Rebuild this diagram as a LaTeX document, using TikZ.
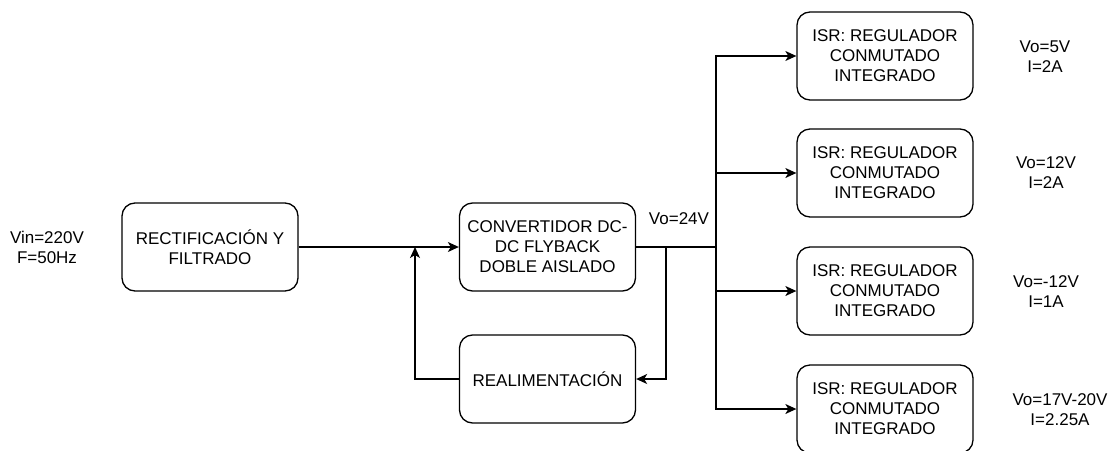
\documentclass[tikz,border=0pt]{standalone}
\usepackage{fontspec}
\setmainfont{Liberation Sans}
\usetikzlibrary{arrows.meta}
\begin{document}
\begin{tikzpicture}[x=1pt,y=-1pt,
  blk/.style={draw=black,line width=1.3pt,rounded corners=13pt,minimum width=176pt,minimum height=88pt,align=center,inner sep=2pt,font=\fontsize{17}{20}\selectfont},
  lbl/.style={align=center,inner sep=0pt,font=\fontsize{17}{20}\selectfont},
  wire/.style={line width=1.3pt},
  arr/.style={line width=1.3pt,-{Stealth[length=11pt,width=10pt,inset=3pt]}}]
\useasboundingbox (0,0) rectangle (1118,450);
\node[blk] (rect) at (210,247) {RECTIFICACIÓN Y\\FILTRADO};
\node[blk] (conv) at (547.5,247) {CONVERTIDOR DC-\\DC FLYBACK\\DOBLE AISLADO};
\node[blk] (real) at (547.5,379) {REALIMENTACIÓN};
\node[blk] (isr1) at (885,56) {ISR: REGULADOR\\CONMUTADO\\INTEGRADO};
\node[blk] (isr2) at (885,173) {ISR: REGULADOR\\CONMUTADO\\INTEGRADO};
\node[blk] (isr3) at (885,291) {ISR: REGULADOR\\CONMUTADO\\INTEGRADO};
\node[blk] (isr4) at (885,409) {ISR: REGULADOR\\CONMUTADO\\INTEGRADO};
\node[lbl] (vin) at (47,247) {Vin=220V\\F=50Hz};
\node[lbl] (vo24) at (679,219) {Vo=24V};
\node[lbl] (o1) at (1045,57) {Vo=5V\\I=2A};
\node[lbl] (o2) at (1046,173) {Vo=12V\\I=2A};
\node[lbl] (o3) at (1046,292) {Vo=-12V\\I=1A};
\node[lbl] (o4) at (1060,410) {Vo=17V-20V\\I=2.25A};
\coordinate (j) at (415,247);
\coordinate (br) at (666,247);
\coordinate (bus) at (716,247);
\draw[arr] (rect.east) -- (conv.west);
\draw[arr] (real.west) -| (j);
\draw[wire] (conv.east) -- (bus);
\draw[arr] (br) |- (real.east);
\draw[arr] (bus) |- (isr1.west);
\draw[arr] (bus) |- (isr2.west);
\draw[arr] (bus) |- (isr3.west);
\draw[arr] (bus) |- (isr4.west);
\end{tikzpicture}
\end{document}
